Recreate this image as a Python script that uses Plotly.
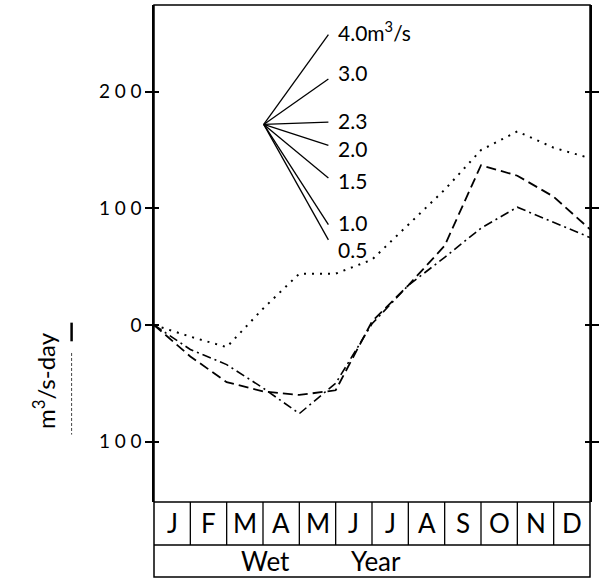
import plotly.graph_objects as go

# Residual mass curves for a wet year, cumulative at the end of each month
month_labels = ["J", "F", "M", "A", "M", "J", "J", "A", "S", "O", "N", "D"]
month_end = list(range(13))            # 0 = start of January, 12 = end of December
curve_dotted = [0, -10, -19, 14, 44, 44, 56, 86, 116, 150, 166, 152, 143]
curve_dashed = [0, -27, -49, -57, -60, -56, 3, 34, 68, 137, 128, 110, 82]
curve_dashdot = [0, -21, -34, -54, -76, -50, 1, 34, 58, 83, 101, 88, 75]

# Rate fan: slope lines for constant discharges (m3/s)
fan_rates = ["4.0", "3.0", "2.3", "2.0", "1.5", "1.0", "0.5"]
fan_origin_x = 3.02
fan_origin_y = 172
fan_end_x = 4.8
fan_end_y = [249, 211, 174, 154, 126, 86, 73]

y_tick_vals = [200, 100, 0, -100]
y_tick_text = ["200", "100", "0", "100"]

FONT = "Lato"
GAP = "\u2005"

fig = go.Figure()

fig.add_trace(go.Scatter(x=month_end, y=curve_dotted, mode="lines",
                         line=dict(color="black", width=2, dash="2px,6px"),
                         hoverinfo="skip"))
fig.add_trace(go.Scatter(x=month_end, y=curve_dashed, mode="lines",
                         line=dict(color="black", width=1.8, dash="10px,5px"),
                         hoverinfo="skip"))
fig.add_trace(go.Scatter(x=month_end, y=curve_dashdot, mode="lines",
                         line=dict(color="black", width=1.6, dash="9px,4px,2px,4px"),
                         hoverinfo="skip"))

label_shift = [4, 6, 2, -3, -2, 2, -10]
for rate, end_y, dy in zip(fan_rates, fan_end_y, label_shift):
    fig.add_trace(go.Scatter(x=[fan_origin_x, fan_end_x], y=[fan_origin_y, end_y],
                             mode="lines", line=dict(color="black", width=1.3),
                             hoverinfo="skip"))
    text = rate + ("m<sup>3</sup>/s" if rate == fan_rates[0] else "")
    fig.add_annotation(x=fan_end_x + 0.2, y=end_y, text=text, showarrow=False,
                       xanchor="left", yanchor="middle", yshift=dy,
                       font=dict(family=FONT, size=21, color="black"))

# invisible trace that carries the inner tick axis
fig.add_trace(go.Scatter(x=[0], y=[0], yaxis="y2", mode="markers",
                         marker=dict(opacity=0), hoverinfo="skip"))

y_range = [-151.8, 274.4]
fig.update_layout(
    width=603, height=585,
    margin=dict(l=154, r=4, t=5, b=83),
    plot_bgcolor="white", paper_bgcolor="white",
    showlegend=False,
    xaxis=dict(range=[0, 12], visible=False),
    yaxis=dict(range=y_range, tickvals=y_tick_vals,
               ticktext=[GAP.join(t) for t in y_tick_text],
               ticks="outside", ticklen=7, tickwidth=1.5, tickcolor="black",
               showline=True, linewidth=1.5, linecolor="black", mirror="ticks",
               showgrid=False, zeroline=False,
               tickfont=dict(family=FONT, size=19, color="black")),
    yaxis2=dict(range=y_range, overlaying="y", tickvals=y_tick_vals,
                ticks="inside", ticklen=5, tickwidth=1.5, tickcolor="black",
                mirror="ticks", showticklabels=False, showline=False,
                showgrid=False, zeroline=False),
)

# Month boxes and the "Wet Year" row under the plot
row1 = -0.0865
row2 = -0.1509
shapes = [
    dict(type="rect", xref="paper", yref="paper", x0=0, x1=1, y0=row2, y1=1,
         line=dict(color="black", width=1.5)),
    dict(type="line", xref="paper", yref="paper", x0=0, x1=1, y0=0, y1=0,
         line=dict(color="black", width=1.5)),
    dict(type="line", xref="paper", yref="paper", x0=0, x1=1, y0=row1, y1=row1,
         line=dict(color="black", width=1.5)),
]
for k in range(1, 12):
    shapes.append(dict(type="line", xref="x", yref="paper", x0=k, x1=k, y0=row1, y1=0,
                       line=dict(color="black", width=1.3)))

# underline and marker beside the axis title
shapes.append(dict(type="line", xref="paper", yref="y", x0=-0.189, x1=-0.189, y0=-24, y1=-94,
                   line=dict(color="#444", width=1, dash="3px,2px")))
shapes.append(dict(type="line", xref="paper", yref="y", x0=-0.189, x1=-0.189, y0=2, y1=-14,
                   line=dict(color="black", width=2.5)))
fig.update_layout(shapes=shapes)

for k, m in enumerate(month_labels):
    fig.add_annotation(x=k + 0.5, y=row1 / 2, xref="x", yref="paper", text=m,
                       showarrow=False, xanchor="center", yanchor="middle",
                       font=dict(family=FONT, size=26, color="black"))

fig.add_annotation(x=3.07, y=(row1 + row2) / 2, xref="x", yref="paper", text="Wet",
                   showarrow=False, xanchor="center", yanchor="middle",
                   font=dict(family=FONT, size=26, color="black"))
fig.add_annotation(x=6.1, y=(row1 + row2) / 2, xref="x", yref="paper", text="Year",
                   showarrow=False, xanchor="center", yanchor="middle",
                   font=dict(family=FONT, size=26, color="black"))

fig.add_annotation(x=-0.252, y=-48, xref="paper", yref="y", text="m<sup>3</sup>/s-day",
                   textangle=-90, showarrow=False, xanchor="center", yanchor="middle",
                   font=dict(family=FONT, size=24, color="black"))

fig.write_html("out.html")
